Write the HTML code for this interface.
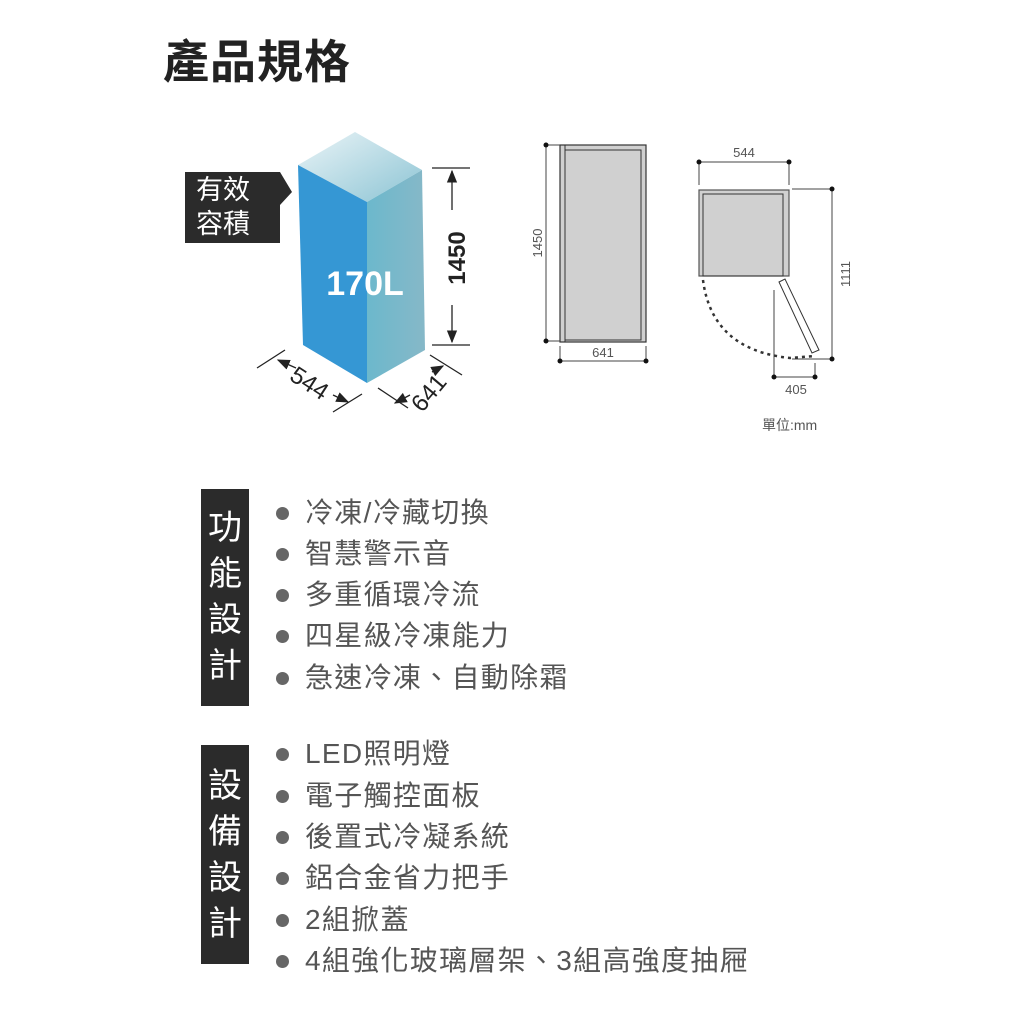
<!DOCTYPE html><html><head><meta charset="utf-8"><style>
body{margin:0;width:1024px;height:1024px;background:#fff;position:relative;overflow:hidden;font-family:"Liberation Sans","Noto Sans CJK TC",sans-serif}
.t{position:absolute;white-space:nowrap}
.li{position:absolute;left:284px;font-size:28px;color:#555;letter-spacing:1.3px;line-height:32px;font-family:"Liberation Sans","Noto Sans CJK TC",sans-serif;white-space:nowrap}
.li:before{content:"";position:absolute;left:-8px;top:10px;width:13px;height:13px;border-radius:50%;background:#666}
.li span{margin-left:21px}
.box{position:absolute;left:201px;width:48px;background:#2b2b2b;color:#fff;font-size:34px;text-align:center;line-height:46px}
</style></head><body>
<div class="t" style="left:163px;top:30px;font-size:46px;font-weight:bold;color:#222;font-family:'Noto Sans CJK TC',sans-serif;line-height:58px;letter-spacing:1px">產品規格</div>
<svg width="1024" height="460" style="position:absolute;left:0;top:0">
<defs>
<linearGradient id="tp" x1="0" y1="0" x2="1" y2="1"><stop offset="0" stop-color="#eaf4f7"/><stop offset="1" stop-color="#8cc4d4"/></linearGradient>
<linearGradient id="rt" x1="0" y1="0" x2="1" y2="0"><stop offset="0" stop-color="#6cb8cc"/><stop offset="1" stop-color="#86b8c8"/></linearGradient>
<marker id="a" markerWidth="10" markerHeight="10" refX="9" refY="5" orient="auto"><path d="M0,1 L10,5 L0,9z" fill="#222"/></marker>
</defs>
<polygon points="185,172 280,172 292,192 280,205 280,243 185,243" fill="#2b2b2b"/>
<text x="196" y="199" font-size="27" fill="#fff" font-family="Noto Sans CJK TC">有效</text>
<text x="196" y="233" font-size="27" fill="#fff" font-family="Noto Sans CJK TC">容積</text>
<polygon points="298,165 355,132 422,170 367,202" fill="url(#tp)"/>
<polygon points="298,165 367,202 367,383 303,345" fill="#3597d4"/>
<polygon points="367,202 422,170 425,350 367,383" fill="url(#rt)"/>
<text x="365" y="295" font-size="34" font-weight="bold" fill="#fff" text-anchor="middle" font-family="Liberation Sans">170L</text>
<g stroke="#222" stroke-width="1.3" fill="none">
<line x1="432" y1="168" x2="470" y2="168"/><line x1="432" y1="345" x2="470" y2="345"/>
<line x1="452" y1="210" x2="452" y2="171" marker-end="url(#a)"/><line x1="452" y1="305" x2="452" y2="342" marker-end="url(#a)"/>
<line x1="257" y1="368" x2="285" y2="350"/><line x1="333" y1="412" x2="362" y2="394"/>
<line x1="296" y1="368" x2="278" y2="360" marker-end="url(#a)"/><line x1="333" y1="395" x2="348" y2="402" marker-end="url(#a)"/>
<line x1="378" y1="388" x2="408" y2="408"/><line x1="430" y1="355" x2="462" y2="375"/>
<line x1="410" y1="395" x2="395" y2="403" marker-end="url(#a)"/><line x1="432" y1="372" x2="443" y2="366" marker-end="url(#a)"/>
</g>
<text x="465" y="258" font-size="24" font-weight="bold" fill="#222" transform="rotate(-90 465 258)" text-anchor="middle" font-family="Liberation Sans">1450</text>
<text x="305" y="390" font-size="24" fill="#222" transform="rotate(33 305 390)" text-anchor="middle" font-family="Liberation Sans">544</text>
<text x="435" y="398" font-size="24" fill="#222" transform="rotate(-50 435 398)" text-anchor="middle" font-family="Liberation Sans">641</text>
<rect x="560" y="145" width="86" height="197" fill="#d0d0d0" stroke="#333" stroke-width="1.2"/>
<rect x="565" y="150" width="76" height="190" fill="none" stroke="#333" stroke-width="1"/>
<line x1="565" y1="145" x2="565" y2="342" stroke="#333"/>
<g stroke="#444" stroke-width="1"><line x1="546" y1="145" x2="546" y2="341"/><line x1="546" y1="145" x2="560" y2="145"/><line x1="546" y1="341" x2="560" y2="341"/>
<line x1="560" y1="346" x2="560" y2="362"/><line x1="646" y1="346" x2="646" y2="362"/><line x1="560" y1="361" x2="646" y2="361"/>
<line x1="699" y1="162" x2="699" y2="185"/><line x1="789" y1="162" x2="789" y2="185"/><line x1="699" y1="162" x2="789" y2="162"/>
<line x1="792" y1="189" x2="832" y2="189"/><line x1="832" y1="189" x2="832" y2="359"/><line x1="792" y1="359" x2="832" y2="359"/>
<line x1="774" y1="290" x2="774" y2="377"/><line x1="815" y1="363" x2="815" y2="377"/><line x1="774" y1="377" x2="815" y2="377"/></g>
<g fill="#111"><circle cx="546" cy="145" r="2.5"/><circle cx="546" cy="341" r="2.5"/><circle cx="560" cy="361" r="2.5"/><circle cx="646" cy="361" r="2.5"/>
<circle cx="699" cy="162" r="2.5"/><circle cx="789" cy="162" r="2.5"/><circle cx="832" cy="189" r="2.5"/><circle cx="832" cy="359" r="2.5"/>
<circle cx="774" cy="377" r="2.5"/><circle cx="815" cy="377" r="2.5"/></g>
<text x="542" y="243" font-size="13" fill="#555" transform="rotate(-90 542 243)" text-anchor="middle" font-family="Liberation Sans">1450</text>
<text x="603" y="357" font-size="13" fill="#555" text-anchor="middle" font-family="Liberation Sans">641</text>
<text x="744" y="157" font-size="13" fill="#555" text-anchor="middle" font-family="Liberation Sans">544</text>
<text x="850" y="274" font-size="13" fill="#555" transform="rotate(-90 850 274)" text-anchor="middle" font-family="Liberation Sans">1111</text>
<text x="796" y="394" font-size="13" fill="#555" text-anchor="middle" font-family="Liberation Sans">405</text>
<text x="762" y="430" font-size="14" fill="#555" font-family="Liberation Sans,Noto Sans CJK TC">單位:mm</text>
<rect x="699" y="190" width="90" height="86" fill="#d0d0d0" stroke="#555" stroke-width="1.2"/>
<rect x="703" y="194" width="80" height="82" fill="none" stroke="#333"/>
<path d="M703,280 Q712,350 790,358 L815,356" fill="none" stroke="#333" stroke-width="2.5" stroke-dasharray="3,4"/>
<polygon points="779,282 785,279 819,350 812,353" fill="#fff" stroke="#333"/>
</svg>
<div class="box" style="top:489px;height:217px;padding-top:16px;box-sizing:border-box">功<br>能<br>設<br>計</div>
<div class="box" style="top:745px;height:219px;padding-top:18px;box-sizing:border-box">設<br>備<br>設<br>計</div>
<div class="li" style="top:497px"><span>冷凍/冷藏切換</span></div>
<div class="li" style="top:538px"><span>智慧警示音</span></div>
<div class="li" style="top:579px"><span>多重循環冷流</span></div>
<div class="li" style="top:620px"><span>四星級冷凍能力</span></div>
<div class="li" style="top:662px"><span>急速冷凍、自動除霜</span></div>
<div class="li" style="top:738px"><span>LED照明燈</span></div>
<div class="li" style="top:780px"><span>電子觸控面板</span></div>
<div class="li" style="top:821px"><span>後置式冷凝系統</span></div>
<div class="li" style="top:862px"><span>鋁合金省力把手</span></div>
<div class="li" style="top:904px"><span>2組掀蓋</span></div>
<div class="li" style="top:945px"><span>4組強化玻璃層架、3組高強度抽屜</span></div>
</body></html>
